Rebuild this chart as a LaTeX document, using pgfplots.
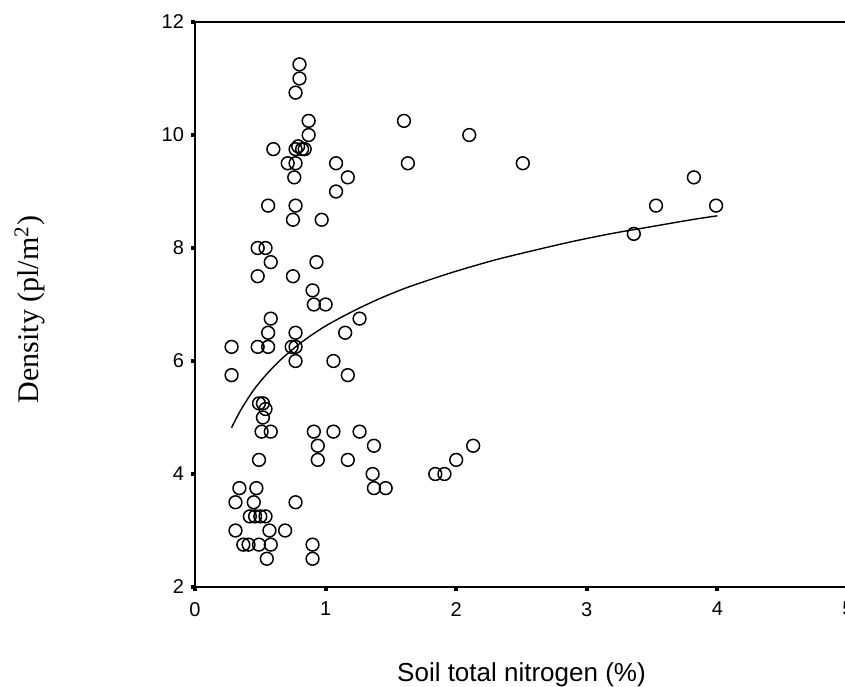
\documentclass[border=0pt]{standalone}
\usepackage{pgfplots}
\pgfplotsset{compat=1.18}
\usepackage{fontspec}
\setmainfont{Liberation Sans}
\newfontfamily\serif{Liberation Serif}

\begin{document}
\begin{tikzpicture}
\begin{axis}[
    name=ax,
    scale only axis,
    width=326.5pt, height=282.5pt,
    xmin=0, xmax=5, ymin=2, ymax=12,
    xtick={0,1,2,3,4,5}, ytick={2,4,6,8,10,12},
    xtick pos=bottom, ytick pos=left,
    tick align=outside,
    major tick length=2pt,
    tick style={line width=2pt, black},
    axis line style={line width=1pt},
    /pgf/number format/assume math mode=true,
    ticklabel style={font=\fontsize{10}{12}\selectfont},
    xticklabel style={yshift=-2pt},
    yticklabel style={xshift=0pt},
    xlabel={Soil total nitrogen (\%)},
    xlabel style={font=\fontsize{13}{15}\selectfont, at={(axis description cs:0.5,0)}, anchor=base, yshift=-47pt},
    ylabel={\serif Density (pl/m\textsuperscript{2})},
    ylabel style={font=\fontsize{15}{18}\selectfont, at={(axis description cs:-0.239,0.491)}, anchor=base},
    clip=false
]
% observed plots
\addplot[only marks, mark=o, mark size=3.2pt, mark options={line width=0.75pt, black}] coordinates {
(0.80,11.25) (0.80,11.0) (0.77,10.75) (0.87,10.25) (1.60,10.25) (0.87,10.0) (2.10,10.0)
(0.60,9.75) (0.77,9.75) (0.79,9.8) (0.82,9.75) (0.84,9.75)
(0.71,9.5) (0.77,9.5) (1.08,9.5) (1.63,9.5) (2.51,9.5)
(0.76,9.25) (1.17,9.25) (3.82,9.25) (1.08,9.0)
(0.56,8.75) (0.77,8.75) (3.53,8.75) (3.99,8.75)
(0.75,8.5) (0.97,8.5) (3.36,8.25)
(0.48,8.0) (0.54,8.0) (0.58,7.75) (0.93,7.75)
(0.48,7.5) (0.75,7.5) (0.90,7.25) (0.91,7.0) (1.00,7.0)
(0.58,6.75) (1.26,6.75) (0.56,6.5) (0.77,6.5) (1.15,6.5)
(0.28,6.25) (0.48,6.25) (0.56,6.25) (0.74,6.25) (0.77,6.25)
(0.77,6.0) (1.06,6.0) (0.28,5.75) (1.17,5.75)
(0.49,5.25) (0.52,5.25) (0.54,5.15) (0.52,5.0)
(0.51,4.75) (0.58,4.75) (0.91,4.75) (1.06,4.75) (1.26,4.75)
(0.94,4.5) (1.37,4.5) (2.13,4.5)
(0.49,4.25) (0.94,4.25) (1.17,4.25) (2.00,4.25)
(1.36,4.0) (1.84,4.0) (1.91,4.0)
(0.34,3.75) (0.47,3.75) (1.37,3.75) (1.46,3.75)
(0.31,3.5) (0.45,3.5) (0.77,3.5)
(0.42,3.25) (0.46,3.25) (0.50,3.25) (0.54,3.25)
(0.31,3.0) (0.57,3.0) (0.69,3.0)
(0.37,2.75) (0.41,2.75) (0.49,2.75) (0.58,2.75) (0.90,2.75)
(0.55,2.5) (0.90,2.5)
};
% fitted curve
\addplot[black, line width=0.7pt, smooth] coordinates {
(0.28,4.82) (0.35,5.13) (0.45,5.49) (0.55,5.77) (0.65,6.01) (0.75,6.21)
(0.85,6.39) (1.0,6.62) (1.2,6.87) (1.4,7.09) (1.6,7.28) (1.8,7.44)
(2.0,7.59) (2.3,7.79) (2.6,7.96) (2.9,8.12) (3.2,8.26) (3.5,8.38)
(3.8,8.50) (4.0,8.57)
};
\end{axis}
\pgfresetboundingbox
\path[use as bounding box] ([shift={(-97.5pt,-49.5pt)}]ax.south west) rectangle ([shift={(325pt,293.5pt)}]ax.south west);
\end{tikzpicture}
\end{document}
